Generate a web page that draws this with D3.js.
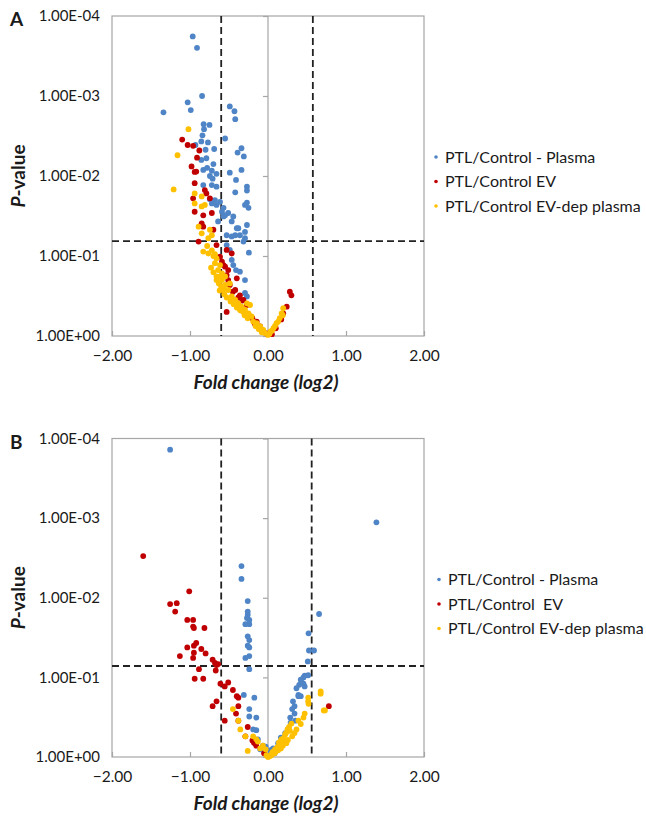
<!DOCTYPE html>
<html>
<head>
<meta charset="utf-8">
<script src="https://cdn.jsdelivr.net/npm/d3@7"></script>
<style>
body{margin:0;background:#fff;}
svg text{font-family:Lato,"Open Sans",sans-serif;fill:#1a1a1a;}
</style>
</head>
<body>
<div id="chart"></div>
<script>
// [fold change (log2), p-value]
var plasmaA = [
[-0.965,1.8e-4],[-0.91,2.5e-4],[-0.845,1.0e-3],[-1.03,1.2e-3],[-0.99,1.5e-3],[-1.34,1.6e-3],
[-0.49,1.35e-3],[-0.43,1.55e-3],[-0.42,1.95e-3],[-0.825,2.25e-3],[-0.75,2.3e-3],[-0.82,2.6e-3],
[-0.84,3.1e-3],[-0.55,3.4e-3],[-0.855,3.7e-3],[-0.77,3.8e-3],[-0.93,4.1e-3],[-0.80,4.7e-3],
[-0.69,4.6e-3],[-0.34,4.5e-3],[-0.39,5.1e-3],[-0.31,5.7e-3],[-0.855,6.3e-3],[-0.79,6.0e-3],
[-0.70,7.1e-3],[-0.78,7.9e-3],[-0.83,8.4e-3],[-0.72,8.6e-3],[-0.66,9.4e-3],[-0.745,1.0e-2],
[-0.71,1.08e-2],[-0.34,8.4e-3],[-0.49,9.1e-3],[-0.41,1.12e-2],[-0.83,1.3e-2],[-0.72,1.3e-2],
[-0.66,1.36e-2],[-0.27,1.36e-2],[-0.27,1.52e-2],[-0.42,1.6e-2],[-0.745,1.95e-2],[-0.68,2.0e-2],
[-0.615,2.1e-2],[-0.72,2.2e-2],[-0.66,2.3e-2],[-0.27,2.15e-2],[-0.25,2.5e-2],[-0.295,2.3e-2],
[-0.57,2.5e-2],[-0.59,2.8e-2],[-0.51,2.9e-2],[-0.57,3.2e-2],[-0.445,3.2e-2],[-0.55,3.1e-2],
[-0.465,3.7e-2],[-0.38,4.5e-2],[-0.27,4.1e-2],[-0.295,5.0e-2],[-0.36,5.5e-2],[-0.64,3.7e-2],
[-0.53,5.5e-2],[-0.465,5.7e-2],[-0.40,4.5e-2],[-0.295,6.0e-2],[-0.42,5.5e-2],[-0.315,6.6e-2],
[-0.53,7.3e-2],[-0.49,8.4e-2],[-0.245,9.1e-2],[-0.465,0.112],[-0.445,0.13],[-0.41,0.15],
[-0.36,0.157],[-0.295,0.2],[-0.295,0.29],[-0.27,0.32]
];
var evA = [
[-1.10,3.5e-3],[-1.03,4.1e-3],[-0.96,4.2e-3],[-0.88,4.8e-3],[-0.91,5.9e-3],[-0.98,7.6e-3],
[-0.92,8.8e-3],[-0.94,8.9e-3],[-0.94,1.23e-2],[-0.96,1.9e-2],[-0.81,1.5e-2],[-0.79,1.65e-2],
[-0.745,1.9e-2],[-0.94,2.8e-2],[-0.83,3.1e-2],[-0.72,2.9e-2],[-0.85,3.9e-2],[-0.83,4.3e-2],
[-0.70,4.7e-2],[-0.89,6.6e-2],[-0.66,7.3e-2],[-0.53,8.4e-2],[-0.465,9.3e-2],[-0.615,0.102],
[-0.59,0.118],[-0.55,0.136],[-0.51,0.15],[-0.53,0.173],[-0.40,0.19],[-0.42,0.266],
[-0.36,0.31],[-0.315,0.355],[-0.27,0.41],[-0.53,0.50],[-0.23,0.57],[-0.145,0.66],
[-0.57,0.13],[-0.51,0.2],[-0.49,0.23],[-0.45,0.28],[-0.38,0.33],[-0.33,0.36],
[-0.2,0.6],[-0.17,0.7],[-0.07,0.85],[-0.02,0.93],[0.05,0.95],[0.1,0.8],[0.17,0.62],
[0.28,0.28],[0.30,0.31],[0.24,0.43],[0.195,0.52],[-0.10,0.76]
];
var evDepA = [
[-1.02,2.6e-3],[-1.16,5.5e-3],[-1.21,1.47e-2],[-0.94,1.65e-2],[-0.94,2.2e-2],[-0.85,1.8e-2],
[-0.85,2.4e-2],[-0.81,2.3e-2],[-0.89,4.3e-2],[-0.85,5.2e-2],[-0.745,4.7e-2],[-0.72,5.5e-2],
[-0.765,6.0e-2],[-0.83,8.8e-2],[-0.765,9.3e-2],[-0.78,0.075],[-0.72,0.085],[-0.68,0.095],
[-0.70,0.1],[-0.66,0.107],[-0.68,0.123],[-0.615,0.13],[-0.73,0.14],[-0.64,0.15],[-0.7,0.16],
[-0.59,0.165],[-0.615,0.18],[-0.66,0.18],[-0.55,0.18],[-0.59,0.2],[-0.66,0.2],[-0.63,0.22],
[-0.55,0.23],[-0.49,0.22],[-0.60,0.24],[-0.57,0.26],[-0.51,0.266],[-0.62,0.27],[-0.56,0.3],
[-0.465,0.32],[-0.53,0.33],[-0.42,0.355],[-0.48,0.37],[-0.38,0.39],[-0.27,0.39],[-0.44,0.40],
[-0.23,0.41],[-0.34,0.43],[-0.40,0.44],[-0.295,0.47],[-0.36,0.47],[-0.35,0.48],[-0.315,0.5],
[-0.25,0.52],[-0.3,0.55],[-0.21,0.57],[-0.26,0.6],[-0.19,0.66],[-0.145,0.69],[-0.16,0.75],
[-0.10,0.76],[-0.12,0.82],[-0.06,0.84],[-0.08,0.9],[-0.04,0.92],[0.0,0.97],[0.02,0.94],
[0.03,0.88],[0.05,0.86],[0.07,0.8],[0.09,0.75],[0.11,0.69],[0.13,0.66],[0.15,0.6],[0.19,0.55],
[0.175,0.52],[0.195,0.45]
];

var plasmaB = [
[-1.255,1.38e-4],[1.39,1.13e-3],[-0.34,4.0e-3],[-0.34,5.8e-3],[-0.26,1.1e-2],[-0.26,1.49e-2],
[-0.26,1.63e-2],[-0.27,1.8e-2],[-0.24,1.9e-2],[-0.29,2.15e-2],[-0.24,2.15e-2],[-0.26,3.05e-2],
[-0.24,3.4e-2],[-0.26,4.0e-2],[-0.24,4.2e-2],[-0.24,5.4e-2],[-0.29,5.7e-2],[-0.24,7.9e-2],
[-0.31,0.166],[-0.175,0.18],[-0.24,0.25],[-0.15,0.32],[-0.24,0.31],[-0.19,0.45],[-0.15,0.46],
[-0.13,0.6],[-0.065,0.72],[-0.03,0.74],[-0.1,0.8],[-0.05,0.85],[0.03,0.82],
[0.655,1.6e-2],[0.52,2.8e-2],[0.525,4.6e-2],[0.59,4.6e-2],[0.51,6.3e-2],[0.47,9.5e-2],
[0.515,9.4e-2],[0.455,0.1],[0.42,0.107],[0.43,0.116],[0.40,0.124],[0.455,0.12],[0.47,0.13],
[0.365,0.137],[0.39,0.166],[0.39,0.172],[0.42,0.172],[0.32,0.2],[0.34,0.23],[0.31,0.25],
[0.34,0.285],[0.285,0.32],[0.35,0.35],[0.29,0.37],[0.255,0.45],[0.22,0.5],[0.165,0.57],
[0.13,0.67],[0.065,0.78],[0.085,0.9],[0.02,0.95]
];
var evB = [
[-1.60,3.0e-3],[-1.01,8.3e-3],[-1.255,1.2e-2],[-1.17,1.17e-2],[-1.19,1.49e-2],[-1.035,1.9e-2],
[-0.96,1.9e-2],[-0.96,2.3e-2],[-0.95,2.4e-2],[-0.815,2.4e-2],[-0.92,3.7e-2],[-0.95,4.0e-2],
[-1.035,4.2e-2],[-0.855,4.4e-2],[-0.80,5.0e-2],[-0.95,4.9e-2],[-1.13,5.4e-2],[-0.96,5.7e-2],
[-0.71,6.0e-2],[-0.68,6.6e-2],[-0.64,6.8e-2],[-0.66,7.0e-2],[-0.885,7.9e-2],[-0.67,8.2e-2],
[-0.94,0.104],[-0.83,0.104],[-0.61,0.12],[-0.555,0.13],[-0.51,0.116],[-0.45,0.144],
[-0.40,0.172],[-0.38,0.18],[-0.38,0.23],[-0.66,0.2],[-0.71,0.23],[-0.41,0.285],
[-0.555,0.35],[-0.38,0.35],[-0.26,0.42],[-0.29,0.55],[-0.2,0.62],[-0.175,0.64],[-0.18,0.66],
[-0.16,0.68],[-0.15,0.72],[-0.05,0.9],[0.78,0.23]
];
var evDepB = [
[-0.45,0.25],[-0.38,0.35],[-0.355,0.45],[-0.29,0.55],[-0.19,0.55],[-0.26,0.84],[-0.15,0.6],
[-0.13,0.64],[-0.065,0.72],[-0.1,0.78],[-0.03,0.8],[-0.02,0.95],[0.0,1.0],
[0.675,0.15],[0.675,0.16],[0.715,0.26],[0.73,0.26],[0.515,0.18],[0.515,0.2],[0.52,0.215],
[0.47,0.285],[0.455,0.32],[0.39,0.35],[0.42,0.385],[0.365,0.45],[0.34,0.5],[0.31,0.55],
[0.255,0.61],[0.235,0.67],[0.19,0.72],[0.165,0.78],[0.13,0.82],[0.085,0.9],[0.045,0.95],
[0.02,0.98],[0.05,0.9],[0.1,0.85],[0.12,0.75],[0.15,0.7],[0.18,0.63],[0.2,0.58],[0.22,0.52],
[0.25,0.45],[0.27,0.42],[0.3,0.38],[0.23,0.5],[0.28,0.47],[0.17,0.6],[0.14,0.66],[0.09,0.8],
[0.06,0.86]
];

var xTicks = [-2,-1,0,1,2];
var yTicks = [1e-4,1e-3,1e-2,1e-1,1];
var yTickLabels = ["1.00E-04","1.00E-03","1.00E-02","1.00E-01","1.00E+00"];
var legendA = ["PTL/Control - Plasma","PTL/Control EV","PTL/Control EV-dep plasma"];
var legendB = ["PTL/Control - Plasma","PTL/Control  EV","PTL/Control EV-dep plasma"];
var pCut = [0.065, 0.072];
var fcCutA = [-0.6, 0.575];
var fcCutB = [-0.6, 0.56];

var colors = ['#4f85c6','#c00000','#ffc000'];
var gridGrey = '#a6a6a6';

var svg = d3.select('#chart')
    .append('svg')
    .attr('width', 646)
    .attr('height', 817);

function volcano(svg,top,bottom,letter,series,labels,pLine,fcLines,legendX){
    let left = 112, right = 424;

    var xScale = d3.scaleLinear()
        .domain([-2, 2])
        .range([left, right]);

    var yScale = d3.scaleLog()
        .domain([1, 1e-4])
        .range([bottom, top]);

    let g = svg.append('g');

    // plot frame
    g.append('rect')
        .attr('x', left)
        .attr('y', top)
        .attr('width', right-left)
        .attr('height', bottom-top)
        .attr('fill', 'none')
        .attr('stroke', gridGrey)
        .attr('stroke-width', 1.2);

    // vertical axis sits on x = 0
    g.append('line')
        .attr('x1', xScale(0)).attr('x2', xScale(0))
        .attr('y1', top).attr('y2', bottom)
        .attr('stroke', gridGrey)
        .attr('stroke-width', 1.2);

    var yTickAxis = d3.axisLeft(yScale).tickValues(yTicks).tickSize(5).tickFormat('');
    let yt = g.append('g')
        .attr('transform', 'translate(' + xScale(0) + ',0)')
        .call(yTickAxis);
    yt.select('.domain').remove();
    yt.selectAll('line').attr('stroke', gridGrey).attr('stroke-width', 1.2);

    var yLabelAxis = d3.axisLeft(yScale).tickValues(yTicks).tickSize(0).tickPadding(12)
        .tickFormat(function(d,i){ return yTickLabels[i]; });
    let yl = g.append('g')
        .attr('transform', 'translate(' + left + ',0)')
        .call(yLabelAxis);
    yl.select('.domain').remove();
    yl.selectAll('text')
        .attr('font-family', null)
        .style('font-size', '15px');

    var xAxis = d3.axisBottom(xScale).tickValues(xTicks).tickSize(-5).tickPadding(14)
        .tickFormat(d3.format('.2f'));
    let xa = g.append('g')
        .attr('transform', 'translate(0,' + bottom + ')')
        .call(xAxis);
    xa.select('.domain').remove();
    xa.selectAll('line').attr('stroke', gridGrey).attr('stroke-width', 1.2);
    xa.selectAll('text')
        .attr('font-family', null)
        .style('font-size', '15.5px');

    // cut-off lines
    g.append('line')
        .attr('x1', left).attr('x2', right)
        .attr('y1', yScale(pLine)).attr('y2', yScale(pLine))
        .attr('stroke', '#222')
        .attr('stroke-width', 1.8)
        .attr('stroke-dasharray', '7,4');

    g.selectAll('fcline')
        .data(fcLines)
        .enter()
        .append('line')
        .attr('x1', function(d){ return xScale(d); })
        .attr('x2', function(d){ return xScale(d); })
        .attr('y1', top).attr('y2', bottom)
        .attr('stroke', '#222')
        .attr('stroke-width', 1.8)
        .attr('stroke-dasharray', '7,4');

    // points: plasma, EV, EV-dep plasma drawn in that order
    series.forEach(function(s,i){
        g.selectAll('dots'+i)
            .data(s)
            .enter()
            .append('circle')
            .attr('cx', function(d){ return xScale(d[0]); })
            .attr('cy', function(d){ return yScale(d[1]); })
            .attr('r', 2.9)
            .attr('fill', colors[i]);
    });

    // titles
    g.append('text')
        .attr('x', 10)
        .attr('y', top + 10)
        .style('font-size', '19px')
        .style('font-weight', 'bold')
        .text(letter);

    g.append('text')
        .attr('x', xScale(0) - 2)
        .attr('y', bottom + 53)
        .style('text-anchor', 'middle')
        .style('font-size', '19px')
        .style('font-weight', 'bold')
        .style('font-style', 'italic')
        .text('Fold change (log2)');

    let yTitle = g.append('text')
        .attr('transform', 'translate(25,' + ((top+bottom)/2) + ') rotate(-90)')
        .style('text-anchor', 'middle')
        .style('font-size', '19px')
        .style('font-weight', 'bold');
    yTitle.append('tspan').style('font-style', 'italic').text('P');
    yTitle.append('tspan').text('-value');

    // legend
    let leg = g.selectAll('legend')
        .data(labels)
        .enter()
        .append('g')
        .attr('transform', function(d,i){
            return 'translate(' + legendX + ',' + (top + 141 + 24.5*i) + ')';
        });
    leg.append('circle')
        .attr('r', 1.8)
        .attr('fill', function(d,i){ return colors[i]; });
    leg.append('text')
        .attr('x', 9)
        .attr('dy', '0.35em')
        .style('font-size', '16px')
        .style('white-space', 'pre')
        .text(function(d){ return d; });
}

volcano(svg, 16, 336, 'A', [plasmaA, evA, evDepA], legendA, pCut[0], fcCutA, 436);
volcano(svg, 438.5, 757, 'B', [plasmaB, evB, evDepB], legendB, pCut[1], fcCutB, 439);
</script>
</body>
</html>
